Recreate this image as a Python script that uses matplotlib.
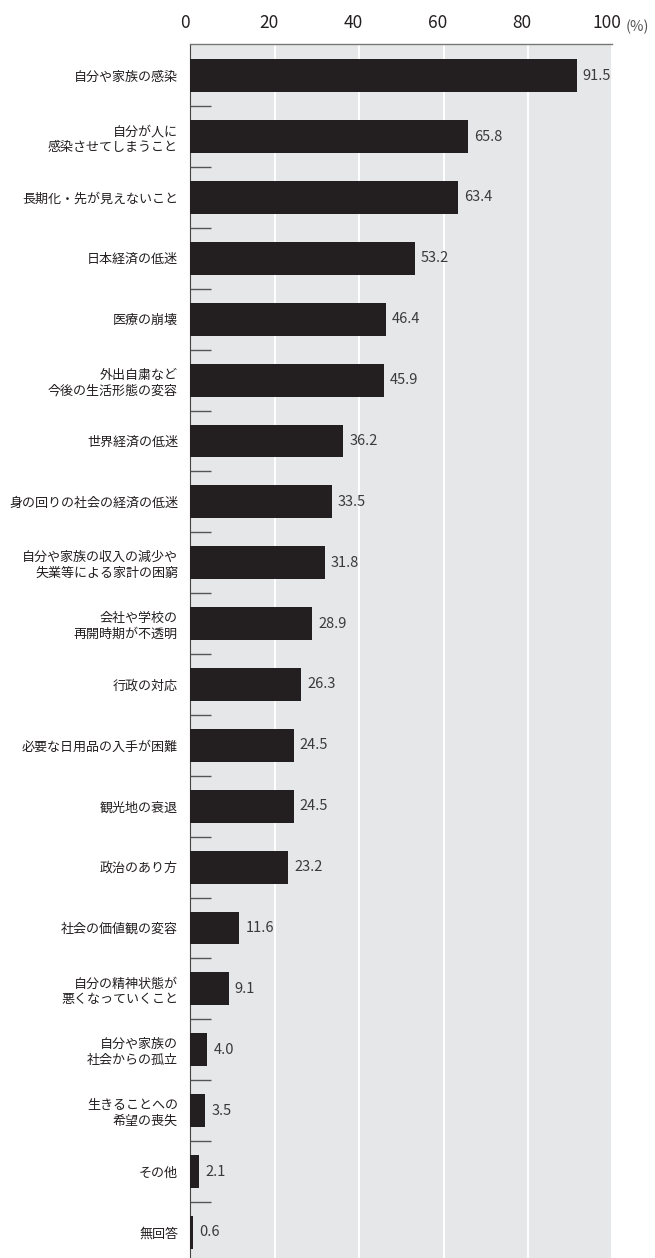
import matplotlib
matplotlib.use("Agg")
import matplotlib.pyplot as plt
from matplotlib.transforms import ScaledTranslation

plt.rcParams['font.family'] = ['Noto Sans CJK JP', 'DejaVu Sans']

labels = ["自分や家族の感染", "自分が人に\n感染させてしまうこと", "長期化・先が見えないこと",
          "日本経済の低迷", "医療の崩壊", "外出自粛など\n今後の生活形態の変容",
          "世界経済の低迷", "身の回りの社会の経済の低迷",
          "自分や家族の収入の減少や\n失業等による家計の困窮", "会社や学校の\n再開時期が不透明",
          "行政の対応", "必要な日用品の入手が困難", "観光地の衰退", "政治のあり方",
          "社会の価値観の変容", "自分の精神状態が\n悪くなっていくこと",
          "自分や家族の\n社会からの孤立", "生きることへの\n希望の喪失", "その他", "無回答"]
values = [91.5, 65.8, 63.4, 53.2, 46.4, 45.9, 36.2, 33.5, 31.8, 28.9,
          26.3, 24.5, 24.5, 23.2, 11.6, 9.1, 4.0, 3.5, 2.1, 0.6]
xticks = [0, 20, 40, 60, 80, 100]

fig = plt.figure(figsize=(6.55, 12.58), dpi=100)
ax = fig.add_axes([0.2908, 0.0, 0.6443, 0.965])
ax.set_facecolor("#e6e7e8")

pos = list(range(len(labels)))
ax.barh(pos, values, height=0.54, color="#231f20", zorder=3)
for y, v in zip(pos, values):
    ax.text(v + 1.4, y, f"{v:.1f}", va="center", ha="left",
            fontsize=10.5, color="#3a3a3a", zorder=4)

ax.set_xlim(0, 100)
ax.set_ylim(19.42, -0.52)
ax.set_xticks(xticks)
ax.xaxis.tick_top()
ax.tick_params(axis="x", length=0, pad=9, labelsize=12.5, labelcolor="#231f20")
# labels in the original sit a little left of the gridlines
shift = ScaledTranslation(-6 / 100, 0, fig.dpi_scale_trans)
for t in ax.get_xticklabels():
    t.set_transform(t.get_transform() + shift)
ax.grid(axis="x", color="white", linewidth=1.4, zorder=1)

ax.set_yticks(pos)
ax.set_yticklabels(labels, fontsize=9.4, color="#231f20", linespacing=1.3)
ax.tick_params(axis="y", which="major", length=0, pad=9)
ax.set_yticks([p + 0.5 for p in pos[:-1]], minor=True)
ax.tick_params(axis="y", which="minor", direction="in", length=15,
               width=1, color="#555555")

for s in ["right", "bottom"]:
    ax.spines[s].set_visible(False)
ax.spines["left"].set_color("#444444")
ax.spines["top"].set_color("#777777")
ax.spines["top"].set_linewidth(1)

fig.text(0.955, 0.979, "(%)", fontsize=10.5, color="#555555", va="center", ha="left")

fig.savefig("out.png", dpi=100)
